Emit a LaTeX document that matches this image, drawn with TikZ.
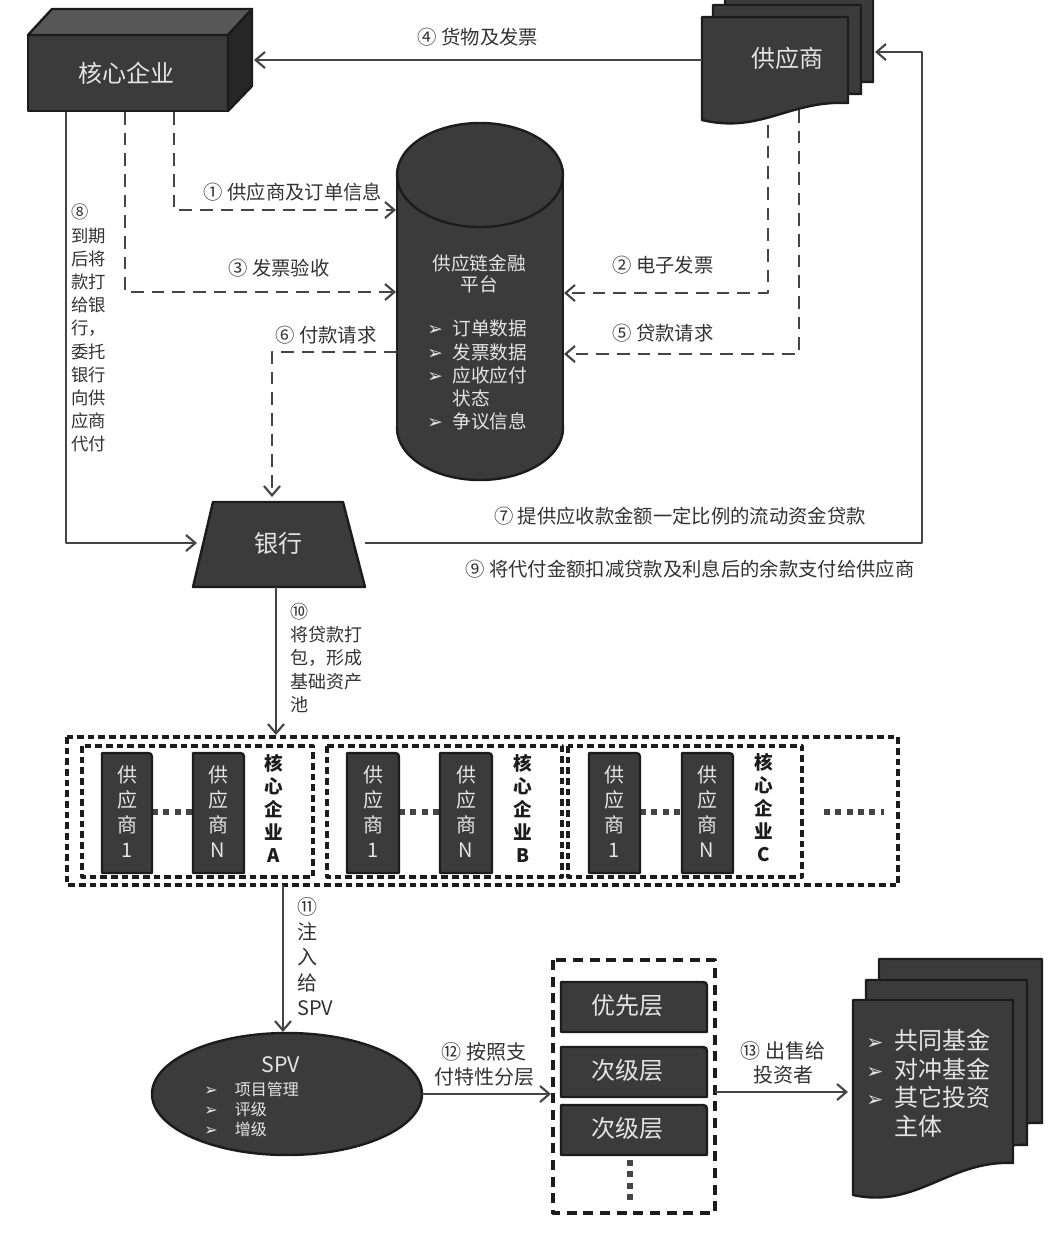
\documentclass[tikz,border=0pt]{standalone}
\usepackage{fontspec}
\setmainfont{Noto Sans CJK SC}
\newfontfamily\dv{DejaVu Sans}
\usetikzlibrary{arrows.meta}
\definecolor{dk}{HTML}{3B3B3B}
\definecolor{bd}{HTML}{1C1C1C}
\definecolor{ln}{HTML}{454545}
\definecolor{tx}{HTML}{333333}
\definecolor{wt}{HTML}{E4E4E4}
\definecolor{tp}{HTML}{585858}
\definecolor{sd}{HTML}{262626}
\newcommand\rcard[4]{\filldraw[dkshape] (#1,#4) -- (#1,#2) -- ({#3-8},#2) .. controls (#3,#2) .. (#3,{#2+8}) -- (#3,#4) -- cycle;}
\newcommand\docshape[5]{\filldraw[dkshape] (#1,#2) -- (#3,#2) -- (#3,#4) .. controls ({#1+0.6*(#3-#1)},{#4-3}) and ({#1+0.4*(#3-#1)},{#5+14}) .. (#1,#5) -- cycle;}
\newcommand\bul[2]{\makebox[#1][l]{\dv\scalebox{#2}{➢}}}
\begin{document}
\begin{tikzpicture}[x=0.75pt,y=-0.75pt,line join=round,
  conn/.style={draw=ln,line width=1.9pt,-{Straight Barb[length=7pt,width=12pt,line width=1.6pt]}},
  dconn/.style={conn,line width=2.2pt,dash pattern=on 9.5pt off 6pt},
  dkshape/.style={fill=dk,draw=bd,line width=1.8pt},
  lbl/.style={text=tx,inner sep=0pt,font=\fontsize{14.5}{18}\selectfont},
  wtxt/.style={text=wt,inner sep=0pt},
  pooldash/.style={draw=bd,line width=2.4pt,dash pattern=on 5pt off 3pt},
  trdash/.style={draw=bd,line width=2.4pt,dash pattern=on 7.5pt off 5pt},
  dotline/.style={draw=ln,line width=4.5pt,dash pattern=on 4.5pt off 4pt},
  vlbl/.style={text=tx,inner sep=0pt,align=left,anchor=north west},
  cardtxt/.style={wtxt,align=center,font=\fontsize{15}{18.75}\selectfont},
  corelbl/.style={text=bd,inner sep=0pt,align=center,font=\bfseries\fontsize{14}{17.25}\selectfont}]
\useasboundingbox (0,0) rectangle (1061,1243);
\fill[white] (0,0) rectangle (1061,1243);

% core enterprise 3D box
\filldraw[dkshape] (28,35) rectangle (228,111);
\filldraw[fill=tp,draw=bd,line width=1.8pt] (28,35) -- (52,9) -- (252,9) -- (228,35) -- cycle;
\filldraw[fill=sd,draw=bd,line width=1.8pt] (228,35) -- (252,9) -- (252,86) -- (228,111) -- cycle;
\node[wtxt,font=\fontsize{18}{20}\selectfont] (core) at (126,73) {核心企业};

% supplier stack
\docshape{725}{-6}{873}{82}{99}
\docshape{713}{5}{861}{94}{111}
\docshape{702}{17}{848}{103}{120}
\node[wtxt,font=\fontsize{18}{20}\selectfont] (sup) at (787,58) {供应商};

% platform cylinder
\filldraw[dkshape] (480,428) ellipse [x radius=83,y radius=52];
\fill[dk] (397,175) rectangle (563,428);
\draw[bd,line width=1.8pt] (397,175) -- (397,428) (563,175) -- (563,428);
\filldraw[dkshape] (480,175) ellipse [x radius=83,y radius=52];
\node[wtxt,align=center,font=\fontsize{14}{16}\selectfont] (plat) at (479,274) {供应链金融\\平台};
\node[wtxt,anchor=north west,align=left,font=\fontsize{14}{17.3}\selectfont] (platl) at (427,320)
  {\bul{19pt}{1.0}订单数据\\\bul{19pt}{1.0}发票数据\\\bul{19pt}{1.0}应收应付\\\makebox[19pt][l]{}状态\\\bul{19pt}{1.0}争议信息};

% bank
\filldraw[dkshape] (213,502) -- (343,502) -- (365,587) -- (193,587) -- cycle;
\node[wtxt,font=\fontsize{18}{20}\selectfont] (bank) at (278,543) {银行};

% connectors top part
\coordinate (coreR) at (254,60); \coordinate (supL) at (702,60);
\draw[conn] (supL) -- (coreR);
\node[lbl] (l4) at (478,37) {④ 货物及发票};

\coordinate (c1) at (174,112); \coordinate (p1) at (396,210);
\draw[dconn] (c1) |- (p1);
\node[lbl] (l1) at (293,192) {① 供应商及订单信息};

\coordinate (c3) at (125,112); \coordinate (p3) at (396,292);
\draw[dconn] (c3) |- (p3);
\node[lbl] (l3) at (279,268) {③ 发票验收};

\coordinate (s2) at (768,125); \coordinate (p2) at (564,293);
\draw[dconn] (s2) |- (p2);
\node[lbl] (l2) at (663,265) {② 电子发票};

\coordinate (s5) at (799,110); \coordinate (p5) at (564,354);
\draw[dconn] (s5) |- (p5);
\node[lbl] (l5) at (663,333) {⑤ 贷款请求};

\coordinate (p6) at (397,352); \coordinate (b6) at (272,497);
\draw[dconn] (p6) -| (b6);
\node[lbl] (l6) at (326,335) {⑥ 付款请求};

\coordinate (c8) at (66,112); \coordinate (b8) at (197,543);
\draw[conn] (c8) |- (b8);
\node[vlbl,font=\fontsize{13}{17.4}\selectfont] (l8) at (71,204)
  {⑧\\到期\\后将\\款打\\给银\\行，\\委托\\银行\\向供\\应商\\代付};

\coordinate (bR) at (365,543); \coordinate (k7) at (922,52); \coordinate (sR) at (875,52);
\draw[conn] (bR) -| (k7) -- (sR);
\node[lbl] (l7) at (680,516) {⑦ 提供应收款金额一定比例的流动资金贷款};
\node[lbl] (l9) at (690,569) {⑨ 将代付金额扣减贷款及利息后的余款支付给供应商};

\coordinate (bB) at (276,587); \coordinate (poolT) at (276,735);
\draw[conn] (bB) -- (poolT);
\node[vlbl,font=\fontsize{13.5}{17.4}\selectfont] (l10) at (290,603)
  {⑩\\将贷款打\\包，形成\\基础资产\\池};

% asset pool
\draw[pooldash] (67,737) rectangle (898,885);
\draw[pooldash] (82,746) rectangle (313,877);
\draw[pooldash] (327,746) rectangle (562,877);
\draw[pooldash] (568,746) rectangle (802,877);
\draw[dotline] (152,812) -- (193,812);
\draw[dotline] (399,812) -- (440,812);
\draw[dotline] (640,812) -- (682,812);
\draw[dotline] (824,812) -- (884,812);
\rcard{102}{753}{152}{873} \rcard{193}{753}{244}{873}
\rcard{347}{753}{399}{873} \rcard{440}{753}{492}{873}
\rcard{589}{753}{640}{873} \rcard{682}{753}{733}{873}
\node[cardtxt] (a1) at (127,812) {供\\应\\商\\1};
\node[cardtxt] (aN) at (218,812) {供\\应\\商\\N};
\node[cardtxt] (b1) at (373,812) {供\\应\\商\\1};
\node[cardtxt] (bN) at (466,812) {供\\应\\商\\N};
\node[cardtxt] (cc1) at (614,812) {供\\应\\商\\1};
\node[cardtxt] (cN) at (707,812) {供\\应\\商\\N};
\node[corelbl] (ka) at (274,808) {核\\心\\企\\业\\A};
\node[corelbl] (kb) at (523,808) {核\\心\\企\\业\\B};
\node[corelbl] (kc) at (764,808) {核\\心\\企\\业\\C};

\coordinate (poolB) at (283,885); \coordinate (spvT) at (283,1032);
\draw[conn] (poolB) -- (spvT);
\node[vlbl,font=\fontsize{15}{19}\selectfont] (l11) at (297,897) {⑪\\注\\入\\给\\SPV};

% SPV
\filldraw[dkshape] (287,1094) ellipse [x radius=135,y radius=61];
\node[wtxt,font=\fontsize{16}{18}\selectfont] (spv) at (281,1065) {SPV};
\node[wtxt,anchor=north west,align=left,font=\fontsize{12}{15}\selectfont] (spvl) at (204,1082)
  {\bul{23pt}{1.0}项目管理\\\bul{23pt}{1.0}评级\\\bul{23pt}{1.0}增级};

\coordinate (spvR) at (422,1094); \coordinate (trL) at (551,1094);
\draw[conn] (spvR) -- (trL);
\node[lbl,align=center,font=\fontsize{15}{18.75}\selectfont] (l12) at (484,1064) {⑫ 按照支\\付特性分层};

% tranches
\draw[trdash] (553,960) rectangle (715,1213);
\rcard{561}{982}{707}{1032}
\rcard{561}{1047}{707}{1097}
\rcard{561}{1105}{707}{1155}
\node[wtxt,font=\fontsize{18}{20}\selectfont] (t1) at (627,1005) {优先层};
\node[wtxt,font=\fontsize{18}{20}\selectfont] (t2) at (627,1070) {次级层};
\node[wtxt,font=\fontsize{18}{20}\selectfont] (t3) at (627,1128) {次级层};
\draw[dotline] (630,1160) -- (630,1202);

\coordinate (trR) at (715,1092); \coordinate (invL) at (848,1092);
\draw[conn] (trR) -- (invL);
\node[lbl,align=center,font=\fontsize{15}{17.5}\selectfont] (l13) at (783,1063) {⑬ 出售给\\投资者};

% investors
\docshape{879}{959}{1042}{1123}{1155}
\docshape{866}{980}{1027}{1145}{1177}
\docshape{853}{1000}{1013}{1163}{1195}
\node[wtxt,anchor=north west,align=left,font=\fontsize{18}{21.5}\selectfont] (inv) at (866,1029)
  {\bul{21pt}{0.85}共同基金\\\bul{21pt}{0.85}对冲基金\\\bul{21pt}{0.85}其它投资\\\makebox[21pt][l]{}主体};
\end{tikzpicture}
\end{document}
